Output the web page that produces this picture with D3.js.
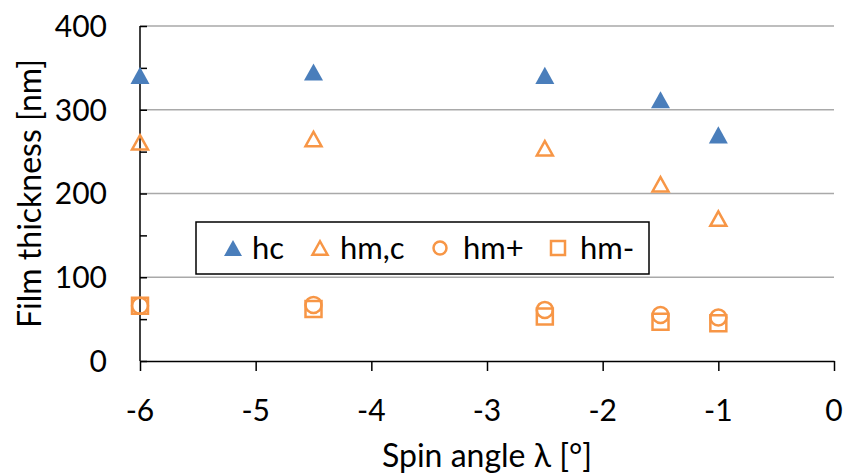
<!DOCTYPE html>
<html>
<head>
<meta charset="utf-8">
<script src="https://cdn.jsdelivr.net/npm/d3@7"></script>
<style>
  body { margin: 0; background: #fff; }
  text { font-family: Lato, "Open Sans", sans-serif; fill: #000; }
</style>
</head>
<body>
<div id="chart"></div>
<script>
// data
var angles = [-6, -4.5, -2.5, -1.5, -1];
var hc  = [341, 345, 341, 312, 270];
var hmc = [261, 265, 254, 211, 170];
var hmPlus  = [66, 67, 61, 55, 52];
var hmMinus = [66, 62, 53, 47, 45];
var xTicks = [-6, -5, -4, -3, -2, -1, 0];
var yTicks = [0, 100, 200, 300, 400];
var yMinor = [50, 150, 250, 350];

var width = 845, height = 473;
var blue = "#4a7ebb", orange = "#f79646";

var svg = d3.select("#chart").append("svg")
    .attr("width", width)
    .attr("height", height);

//Scales
var x = d3.scaleLinear().domain([-6, 0]).range([140, 834]);
var y = d3.scaleLinear().domain([0, 400]).range([361, 26]);

//Gridlines
svg.selectAll(".grid").data(yTicks.slice(1)).enter()
    .append("line")
    .attr("x1", x(-6)).attr("x2", x(0))
    .attr("y1", function(d) { return y(d); })
    .attr("y2", function(d) { return y(d); })
    .style("stroke", "#a9a9a9")
    .style("stroke-width", 1.4);

//Y axis: ticks inside, no domain path
var yAxis = d3.axisRight(y).tickValues(yTicks).tickSize(7).tickFormat("");
svg.append("g")
    .attr("transform", "translate(" + x(-6) + ",0)")
    .call(yAxis)
    .call(function(g) { g.select(".domain").remove(); });
var yAxisMinor = d3.axisRight(y).tickValues(yMinor).tickSize(7).tickFormat("");
svg.append("g")
    .attr("transform", "translate(" + x(-6) + ",0)")
    .call(yAxisMinor)
    .call(function(g) { g.select(".domain").remove(); });
svg.append("line")
    .attr("x1", x(-6)).attr("x2", x(-6))
    .attr("y1", y(400)).attr("y2", y(0))
    .style("stroke", "#000").style("stroke-width", 1.5);
svg.selectAll(".ylab").data(yTicks).enter()
    .append("text")
    .attr("x", 107)
    .attr("y", function(d) { return y(d); })
    .attr("dy", "0.36em")
    .attr("text-anchor", "end")
    .style("font-size", "30px")
    .text(function(d) { return d; });

//X axis
var xAxis = d3.axisBottom(x).tickValues(xTicks).tickSize(10).tickSizeOuter(0).tickFormat("");
svg.append("g")
    .attr("transform", "translate(0," + y(0) + ")")
    .call(xAxis);
svg.selectAll(".tick line, .domain").style("stroke", "#000").style("stroke-width", 1.5);
svg.selectAll(".xlab").data(xTicks).enter()
    .append("text")
    .attr("x", function(d) { return x(d); })
    .attr("y", 410)
    .attr("dy", "0.36em")
    .attr("text-anchor", "middle")
    .style("font-size", "30px")
    .text(function(d) { return d; });

//Axis titles
svg.append("text")
    .attr("x", (x(-6) + x(0)) / 2)
    .attr("y", 467)
    .attr("text-anchor", "middle")
    .style("font-size", "32px")
    .text("Spin angle λ [°]");
svg.append("text")
    .attr("transform", "translate(41," + (y(0) + y(400)) / 2 + ") rotate(-90)")
    .attr("text-anchor", "middle")
    .style("font-size", "32px")
    .text("Film thickness [nm]");

//Marker paths, centred on their bounding box like Excel does
function triangle(s) {
    var h = s * 0.9;
    return "M0," + (-h / 2) + "L" + (s / 2) + "," + (h / 2) + "L" + (-s / 2) + "," + (h / 2) + "Z";
}
function square(s) {
    return "M" + (-s / 2) + "," + (-s / 2) + "h" + s + "v" + s + "h" + (-s) + "Z";
}
function circle(s) {
    var r = s / 2;
    return "M" + r + ",0A" + r + "," + r + " 0 1,1 " + (-r) + ",0A" + r + "," + r + " 0 1,1 " + r + ",0Z";
}

var series = [
    { name: "hc", values: hc, path: triangle(19), legPath: triangle(18), fill: blue, stroke: "none", gap: 19 },
    { name: "hm,c", values: hmc, path: triangle(16), legPath: triangle(15), fill: "none", stroke: orange, gap: 20 },
    { name: "hm+", values: hmPlus, path: circle(16), legPath: circle(13), fill: "none", stroke: orange, gap: 23 },
    { name: "hm-", values: hmMinus, path: square(16), legPath: square(14), fill: "none", stroke: orange, gap: 22 }
];

series.forEach(function(s) {
    svg.selectAll(null).data(s.values).enter()
        .append("path")
        .attr("d", s.path)
        .attr("transform", function(d, i) { return "translate(" + x(angles[i]) + "," + y(d) + ")"; })
        .style("fill", s.fill)
        .style("stroke", s.stroke)
        .style("stroke-width", 2.5);
});

//Legend
var legend = svg.append("g");
legend.append("rect")
    .attr("x", 196).attr("y", 222)
    .attr("width", 453).attr("height", 52)
    .style("fill", "#fff")
    .style("stroke", "#000")
    .style("stroke-width", 1.5);
var legX = [233, 320, 440, 558];
series.forEach(function(s, i) {
    legend.append("path")
        .attr("d", s.legPath)
        .attr("transform", "translate(" + legX[i] + ",248)")
        .style("fill", s.fill)
        .style("stroke", s.stroke)
        .style("stroke-width", 2.5);
    legend.append("text")
        .attr("x", legX[i] + s.gap)
        .attr("y", 248)
        .attr("dy", "0.36em")
        .style("font-size", "31px")
        .text(s.name);
});
</script>
</body>
</html>
